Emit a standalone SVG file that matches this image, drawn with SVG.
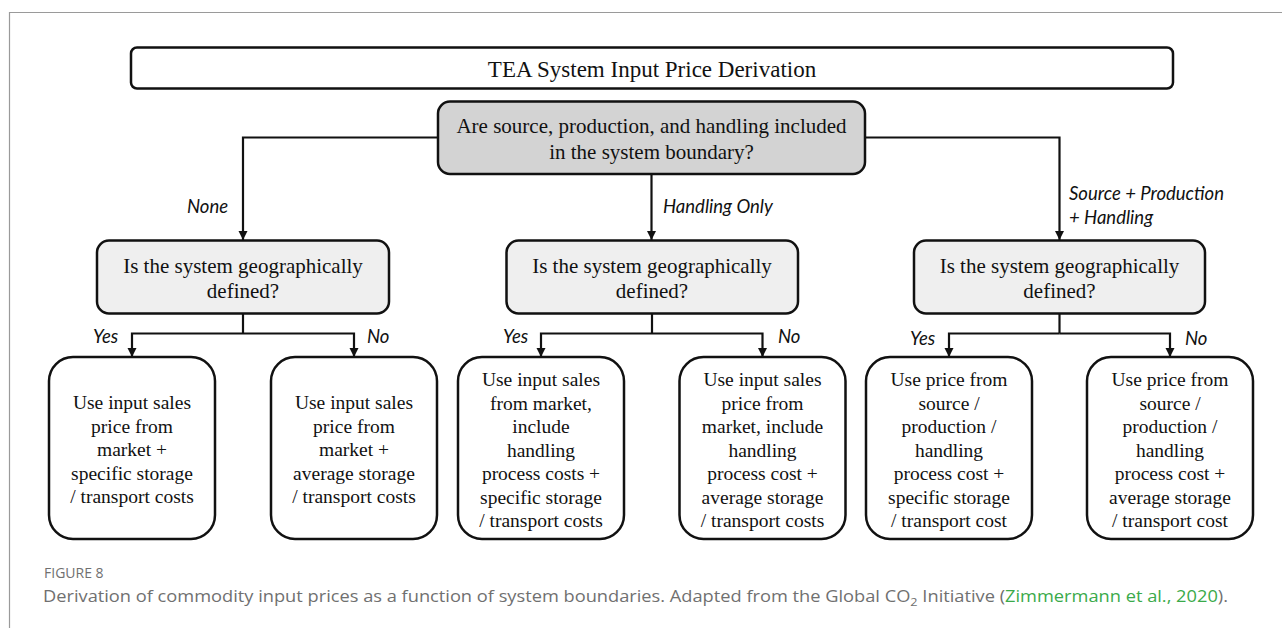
<svg xmlns="http://www.w3.org/2000/svg" width="1282" height="628" viewBox="0 0 1282 628">
<style>
.box{stroke:#111;stroke-width:2.5;}
.t{font-family:"Liberation Serif","Times New Roman",serif;fill:#111;text-anchor:middle;}
.lbl{font-family:Lato,"Open Sans",sans-serif;font-style:italic;font-size:18.5px;fill:#111;}
.con{fill:none;stroke:#111;stroke-width:2.2;}
.cap{font-family:"Open Sans","Noto Sans",sans-serif;fill:#707070;}
</style>
<defs>
<marker id="arr" markerUnits="userSpaceOnUse" markerWidth="10" markerHeight="10" refX="9" refY="5" orient="auto">
<path d="M0,0.5 L9,5 L0,9.5 Z" fill="#111"/>
</marker>
</defs>
<rect width="1282" height="628" fill="#fff"/>
<g id="frame" fill="none" stroke="#9a9a9a" stroke-width="1.2">
<path d="M9.5,628 V12.5 H1282"/>
</g>
<g id="connectors" class="con">
<path d="M438,137.5 H243 V240" marker-end="url(#arr)"/>
<path d="M651.5,174 V240" marker-end="url(#arr)"/>
<path d="M865,137.5 H1059.5 V240" marker-end="url(#arr)"/>
<path d="M243,313.5 V333.5"/>
<path d="M243,333.5 H132 V357" marker-end="url(#arr)"/>
<path d="M243,333.5 H354 V357" marker-end="url(#arr)"/>
<path d="M652,313.5 V333.5"/>
<path d="M652,333.5 H541 V357" marker-end="url(#arr)"/>
<path d="M652,333.5 H762.5 V357" marker-end="url(#arr)"/>
<path d="M1059.5,313.5 V333.5"/>
<path d="M1059.5,333.5 H949 V357" marker-end="url(#arr)"/>
<path d="M1059.5,333.5 H1170 V357" marker-end="url(#arr)"/>
</g>
<g id="edge-labels">
<text class="lbl" x="187" y="213">None</text>
<text class="lbl" x="663" y="213">Handling Only</text>
<text class="lbl" x="1069" y="200">Source + Production</text>
<text class="lbl" x="1069" y="224">+ Handling</text>
<text class="lbl" x="93" y="343">Yes</text>
<text class="lbl" x="367" y="343">No</text>
<text class="lbl" x="503" y="343">Yes</text>
<text class="lbl" x="778" y="343">No</text>
<text class="lbl" x="910" y="345">Yes</text>
<text class="lbl" x="1185" y="345">No</text>
</g>
<g id="title">
<rect class="box" x="131" y="47.5" width="1042" height="41" rx="6" fill="#fff"/>
<text class="t" x="652" y="76.5" font-size="23">TEA System Input Price Derivation</text>
</g>
<g id="q-boundary">
<rect class="box" x="438" y="101.5" width="427" height="72.5" rx="12" fill="#d3d3d3"/>
<text class="t" x="651.5" y="133" font-size="21">Are source, production, and handling included</text>
<text class="t" x="651.5" y="159" font-size="21">in the system boundary?</text>
</g>
<g id="q-geo-none">
<rect class="box" x="97" y="240.5" width="292" height="73" rx="12" fill="#efefef"/>
<text class="t" x="243" y="273" font-size="21">Is the system geographically</text>
<text class="t" x="243" y="298" font-size="21">defined?</text>
</g>
<g id="q-geo-handling">
<rect class="box" x="506.5" y="240.5" width="291.5" height="73" rx="12" fill="#efefef"/>
<text class="t" x="652" y="273" font-size="21">Is the system geographically</text>
<text class="t" x="652" y="298" font-size="21">defined?</text>
</g>
<g id="q-geo-all">
<rect class="box" x="914" y="240.5" width="291" height="73" rx="12" fill="#efefef"/>
<text class="t" x="1059.5" y="273" font-size="21">Is the system geographically</text>
<text class="t" x="1059.5" y="298" font-size="21">defined?</text>
</g>
<g id="leaf1">
<rect class="box" x="49" y="357" width="166" height="182" rx="24" fill="#fff"/>
<text class="t" font-size="19.5"><tspan x="132" y="409">Use input sales</tspan><tspan x="132" y="432.5">price from</tspan><tspan x="132" y="456">market +</tspan><tspan x="132" y="479.5">specific storage</tspan><tspan x="132" y="503">/ transport costs</tspan></text>
</g>
<g id="leaf2">
<rect class="box" x="271" y="357" width="166" height="182" rx="24" fill="#fff"/>
<text class="t" font-size="19.5"><tspan x="354" y="409">Use input sales</tspan><tspan x="354" y="432.5">price from</tspan><tspan x="354" y="456">market +</tspan><tspan x="354" y="479.5">average storage</tspan><tspan x="354" y="503">/ transport costs</tspan></text>
</g>
<g id="leaf3">
<rect class="box" x="458" y="357" width="166" height="182" rx="24" fill="#fff"/>
<text class="t" font-size="19.5"><tspan x="541" y="386">Use input sales</tspan><tspan x="541" y="409.5">from market,</tspan><tspan x="541" y="433">include</tspan><tspan x="541" y="456.5">handling</tspan><tspan x="541" y="480">process costs +</tspan><tspan x="541" y="503.5">specific storage</tspan><tspan x="541" y="527">/ transport costs</tspan></text>
</g>
<g id="leaf4">
<rect class="box" x="679.5" y="357" width="166" height="182" rx="24" fill="#fff"/>
<text class="t" font-size="19.5"><tspan x="762.5" y="386">Use input sales</tspan><tspan x="762.5" y="409.5">price from</tspan><tspan x="762.5" y="433">market, include</tspan><tspan x="762.5" y="456.5">handling</tspan><tspan x="762.5" y="480">process cost +</tspan><tspan x="762.5" y="503.5">average storage</tspan><tspan x="762.5" y="527">/ transport costs</tspan></text>
</g>
<g id="leaf5">
<rect class="box" x="866" y="357" width="166" height="182" rx="24" fill="#fff"/>
<text class="t" font-size="19.5"><tspan x="949" y="386">Use price from</tspan><tspan x="949" y="409.5">source /</tspan><tspan x="949" y="433">production /</tspan><tspan x="949" y="456.5">handling</tspan><tspan x="949" y="480">process cost +</tspan><tspan x="949" y="503.5">specific storage</tspan><tspan x="949" y="527">/ transport cost</tspan></text>
</g>
<g id="leaf6">
<rect class="box" x="1087" y="357" width="166" height="182" rx="24" fill="#fff"/>
<text class="t" font-size="19.5"><tspan x="1170" y="386">Use price from</tspan><tspan x="1170" y="409.5">source /</tspan><tspan x="1170" y="433">production /</tspan><tspan x="1170" y="456.5">handling</tspan><tspan x="1170" y="480">process cost +</tspan><tspan x="1170" y="503.5">average storage</tspan><tspan x="1170" y="527">/ transport cost</tspan></text>
</g>
<g id="caption">
<text class="cap" x="44" y="578" font-size="14" fill="#808080">FIGURE 8</text>
<text class="cap" x="43" y="602" font-size="16.5" textLength="1185" lengthAdjust="spacingAndGlyphs">Derivation of commodity input prices as a function of system boundaries. Adapted from the Global CO<tspan font-size="11.5" dy="4">2</tspan><tspan dy="-4"> Initiative (</tspan><tspan fill="#3aaa4a">Zimmermann et al., 2020</tspan>).</text>
</g>
</svg>
